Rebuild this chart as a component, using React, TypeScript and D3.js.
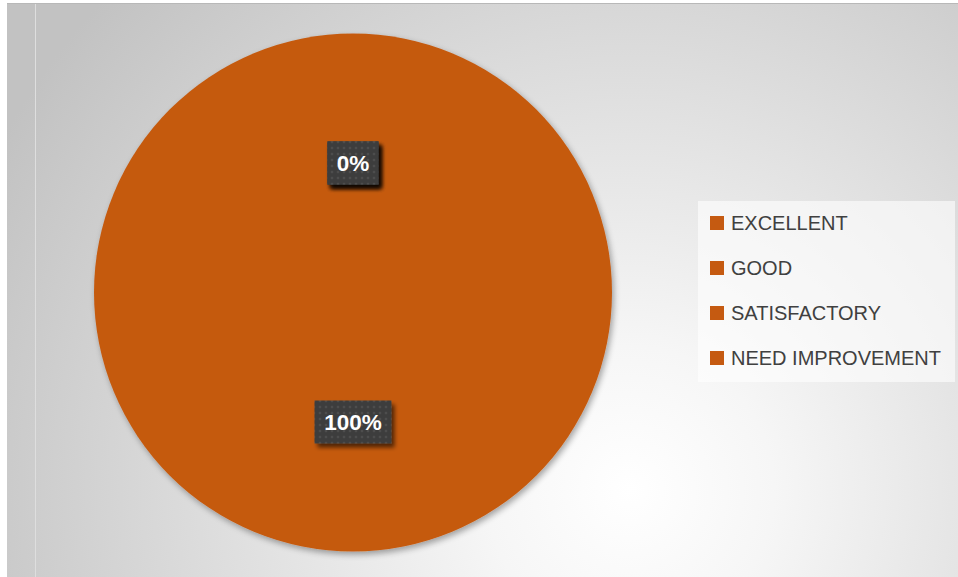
import React from "react";
import * as d3 from "d3";

const categories = ["EXCELLENT", "GOOD", "SATISFACTORY", "NEED IMPROVEMENT"];
const values = [0, 0, 0, 100];
const sliceColor = "#C55A11";

const W = 958;
const H = 577;

export default function App() {
  const cx = 353;
  const cy = 292.5;
  const r = 259;
  const total = d3.sum(values);
  const pie = d3.pie<number>().sort(null).value((d) => d);
  const arcs = pie(values);
  const arc = d3.arc<d3.PieArcDatum<number>>().innerRadius(0).outerRadius(r);
  const labelArc = d3.arc<d3.PieArcDatum<number>>().innerRadius(r * 0.5).outerRadius(r * 0.5);
  const fmt = (v: number) => `${Math.round((v / total) * 100)}%`;

  const legendY = d3.scalePoint<string>().domain(categories).range([223, 358]);

  return (
    <div style={{ position: "absolute", left: 0, top: 0 }}>
      <svg width={W} height={H} style={{ display: "block" }}>
        <defs>
          <radialGradient id="bg" gradientUnits="userSpaceOnUse" cx={630} cy={490} r={720}>
            <stop offset="0" stopColor="#ffffff" />
            <stop offset="0.2" stopColor="#f6f6f6" />
            <stop offset="1" stopColor="#c2c2c2" />
          </radialGradient>
          <pattern id="dots" width="6" height="6" patternUnits="userSpaceOnUse">
            <rect width="6" height="6" fill="#3e3e3e" />
            <circle cx="3" cy="3" r="1.3" fill="#4e4e4e" />
          </pattern>
          <filter id="pieShadow" x="-10%" y="-10%" width="130%" height="130%">
            <feGaussianBlur in="SourceAlpha" stdDeviation="3" />
            <feOffset dx="2" dy="3" result="b" />
            <feComponentTransfer>
              <feFuncA type="linear" slope="0.35" />
            </feComponentTransfer>
            <feMerge>
              <feMergeNode />
              <feMergeNode in="SourceGraphic" />
            </feMerge>
          </filter>
          <filter id="boxShadow" x="-30%" y="-30%" width="170%" height="180%">
            <feGaussianBlur in="SourceAlpha" stdDeviation="2" />
            <feOffset dx="3" dy="4" result="b" />
            <feComponentTransfer>
              <feFuncA type="linear" slope="0.6" />
            </feComponentTransfer>
            <feMerge>
              <feMergeNode />
              <feMergeNode in="SourceGraphic" />
            </feMerge>
          </filter>
        </defs>
        <rect x={0} y={0} width={W} height={H} fill="#ffffff" />
        <rect x={7} y={3} width={W - 7} height={H - 3} fill="url(#bg)" />
        <line x1={7} x2={W} y1={3.5} y2={3.5} stroke="#b8b8b8" strokeWidth={1} />
        <line x1={35.5} x2={35.5} y1={4} y2={H} stroke="#dedede" strokeWidth={1} />

        <g transform={`translate(${cx},${cy})`} filter="url(#pieShadow)">
          {arcs.map((a, i) =>
            a.value > 0 ? <path key={i} d={arc(a) || ""} fill={sliceColor} /> : null
          )}
        </g>

        <g transform={`translate(${cx},${cy})`}>
          {arcs.map((a, i) => {
            const [lx, ly] = labelArc.centroid(a);
            const txt = fmt(a.value);
            const bw = txt.length * 13 + 25;
            const bh = 43;
            return (
              <g key={i} transform={`translate(${lx},${ly})`}>
                <rect x={-bw / 2} y={-bh / 2} width={bw} height={bh} fill="url(#dots)" filter="url(#boxShadow)" />
                <text
                  x={0}
                  y={0}
                  dy="0.36em"
                  textAnchor="middle"
                  fill="#ffffff"
                  fontFamily="'Liberation Sans', Arial, sans-serif"
                  fontWeight="bold"
                  fontSize={22.5}
                >
                  {txt}
                </text>
              </g>
            );
          })}
        </g>

        <rect x={698} y={201} width={257} height={181} fill="#ffffff" fillOpacity={0.6} />
        {categories.map((c) => (
          <g key={c} transform={`translate(710,${legendY(c)})`}>
            <rect x={0} y={-7} width={14} height={14} fill={sliceColor} />
            <text
              x={21}
              y={0}
              dy="0.36em"
              fill="#404040"
              fontFamily="'Liberation Sans', Arial, sans-serif"
              fontSize={20}
            >
              {c}
            </text>
          </g>
        ))}
      </svg>
    </div>
  );
}
